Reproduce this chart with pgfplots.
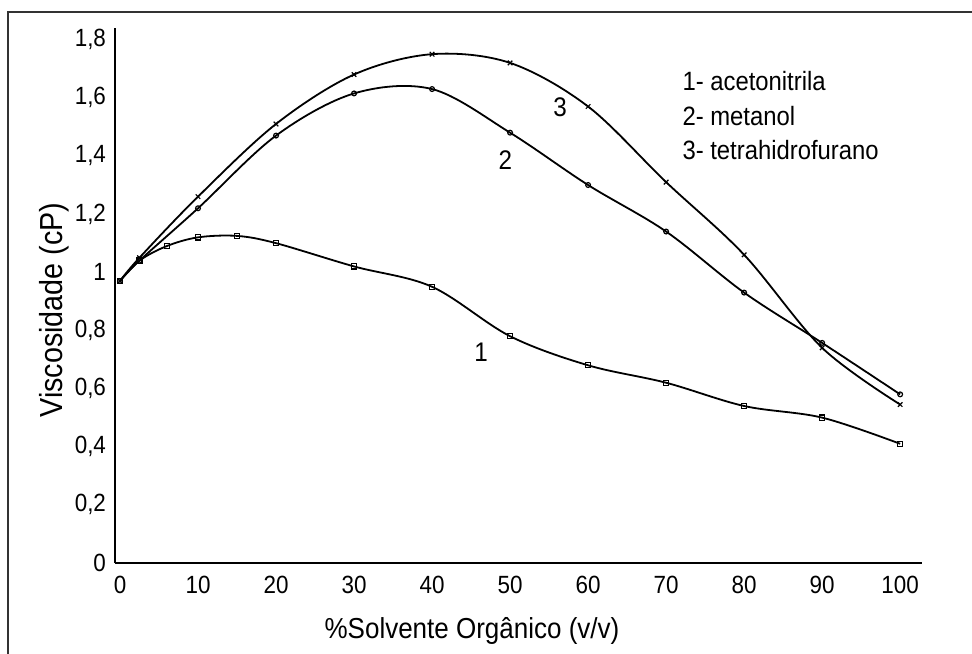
\documentclass[border=0pt]{standalone}
\usepackage{fontspec}
\setmainfont{Liberation Sans}[FakeStretch=0.9]
\usepackage{pgfplots}
\pgfplotsset{compat=1.18}

% measured data (viscosity in cP vs % organic solvent)
\begin{document}
\begin{tikzpicture}
\useasboundingbox (0,0) rectangle (486bp,-327bp);
% outer frame (right and bottom edges fall outside the picture)
\draw[line width=1.3bp, black!80] (4bp,-330bp) -- (4bp,-6bp) -- (490bp,-6bp);

\begin{axis}[
    at={(57.5bp,-281.5bp)}, anchor=south west,
    scale only axis,
    width=403.5bp, height=267.5bp,
    xmin=-0.64, xmax=102.8,
    ymin=0, ymax=1.84,
    axis x line=bottom, axis y line=left,
    axis line style={-, line width=1bp},
    xtick={0,10,...,100},
    ytick={0,0.2,0.4,0.6,0.8,1,1.2,1.4,1.6,1.8},
    major tick length=0pt,
    /pgf/number format/use comma,
    /pgf/number format/assume math mode=true,
    ticklabel style={font=\fontsize{12.5}{14}\selectfont},
    yticklabel style={xshift=-1bp},
    xticklabel style={yshift=-3bp},
    clip=false,
    every axis plot/.append style={black, line width=0.9bp, smooth, tension=0.55},
]
% 1 - acetonitrila
\addplot[mark=square, mark size=1.3bp, mark options={line width=0.6bp}] coordinates {
 (0,0.97) (2.5,1.04) (6,1.09) (10,1.12) (15,1.125) (20,1.10) (30,1.02) (40,0.95)
 (50,0.78) (60,0.68) (70,0.62) (80,0.54) (90,0.50) (100,0.41)};
% 2 - metanol
\addplot[mark=o, mark size=1.2bp, mark options={line width=0.6bp}] coordinates {
 (0,0.97) (2.5,1.04) (10,1.22) (20,1.47) (30,1.615) (40,1.63) (50,1.48)
 (60,1.30) (70,1.14) (80,0.93) (90,0.757) (100,0.58)};
% 3 - tetrahidrofurano
\addplot[mark=x, mark size=1.6bp, mark options={line width=0.6bp}] coordinates {
 (0,0.97) (2.5,1.05) (10,1.26) (20,1.51) (30,1.68) (40,1.75) (50,1.72)
 (60,1.57) (70,1.31) (80,1.06) (90,0.74) (100,0.545)};

\node[font=\fontsize{13.5}{15}\selectfont] at (axis cs:46.3,0.726) {1};
\node[font=\fontsize{13.5}{15}\selectfont] at (axis cs:49.4,1.387) {2};
\node[font=\fontsize{13.5}{15}\selectfont] at (axis cs:56.4,1.566) {3};

\node[anchor=base west, inner sep=0pt, font=\fontsize{13.3}{15}\selectfont] at (axis cs:72.05,1.625) {1- acetonitrila};
\node[anchor=base west, inner sep=0pt, font=\fontsize{13.3}{15}\selectfont] at (axis cs:72.05,1.504) {2- metanol};
\node[anchor=base west, inner sep=0pt, font=\fontsize{13.3}{15}\selectfont] at (axis cs:72.05,1.387) {3- tetrahidrofurano};
\end{axis}

\node[anchor=base, inner sep=0pt, font=\fontsize{14.5}{16}\selectfont] at (236bp,-319bp) {\%Solvente Orgânico (v/v)};
\node[anchor=base, rotate=90, inner sep=0pt, font=\fontsize{16}{18}\selectfont] at (31bp,-155bp) {Viscosidade (cP)};
\end{tikzpicture}
\end{document}
